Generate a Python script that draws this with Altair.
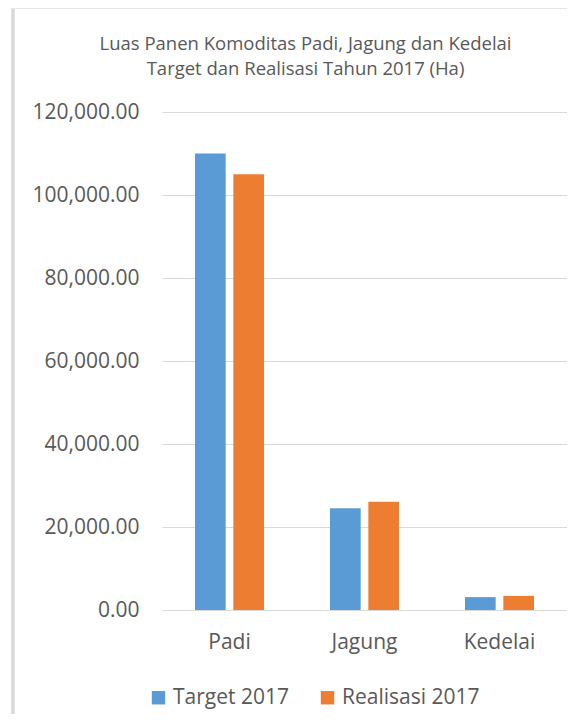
import altair as alt
import pandas as pd

categories = ["Padi", "Jagung", "Kedelai"]
series_names = ["Target 2017", "Realisasi 2017"]
target_2017 = [110000, 24500, 3100]
realisasi_2017 = [105000, 26100, 3400]
colors = ["#5B9BD5", "#ED7D31"]
title_lines = ["Luas Panen Komoditas Padi, Jagung dan Kedelai",
               "Target dan Realisasi Tahun 2017 (Ha)"]

rows = []
for i, c in enumerate(categories):
    rows.append({"Komoditas": c, "Seri": series_names[0], "Nilai": target_2017[i]})
    rows.append({"Komoditas": c, "Seri": series_names[1], "Nilai": realisasi_2017[i]})
df = pd.DataFrame(rows)

FONT = "Open Sans"
TXT = "#595959"

bars = alt.Chart(df).mark_bar().encode(
    x=alt.X("Komoditas:N", sort=categories,
            scale=alt.Scale(paddingInner=0.489, paddingOuter=0.2445),
            axis=alt.Axis(title=None, labelAngle=0, domain=False, ticks=False, grid=False,
                          labelFontSize=21, labelColor=TXT, labelFont=FONT,
                          labelPadding=21)),
    xOffset=alt.XOffset("Seri:N", sort=series_names,
                        scale=alt.Scale(paddingInner=0.2, paddingOuter=0)),
    y=alt.Y("Nilai:Q", scale=alt.Scale(domain=[0, 120000], nice=False),
            axis=alt.Axis(title=None, format=",.2f", values=[0, 20000, 40000, 60000, 80000, 100000, 120000],
                          domain=False, ticks=False, grid=True, gridColor="#d9d9d9",
                          labelFontSize=21, labelColor=TXT, labelFont=FONT,
                          labelPadding=23)),
    color=alt.Color("Seri:N", sort=series_names,
                    scale=alt.Scale(domain=series_names, range=colors),
                    legend=alt.Legend(title=None, orient="none", direction="horizontal",
                                      legendX=-14, legendY=575,
                                      symbolType="square", symbolSize=180,
                                      symbolStrokeWidth=0,
                                      labelFontSize=21, labelColor=TXT, labelFont=FONT,
                                      labelOffset=4, columnPadding=28)),
)

frame_left = alt.Chart(df).mark_rule(color="#d9d9d9", strokeWidth=2.5).encode(
    x=alt.value(-149), y=alt.value(-104), y2=alt.value(630))
frame_top = alt.Chart(df).mark_rule(color="#e6e6e6", strokeWidth=1.5).encode(
    x=alt.value(-150), x2=alt.value(412), y=alt.value(-104))

chart = alt.layer(frame_left, frame_top, bars).properties(
    width=405, height=498,
    background="white",
    title=alt.TitleParams(title_lines, anchor="middle", frame="group", dx=-59, dy=104,
                          fontSize=18.5, fontWeight="normal", font=FONT, color=TXT,
                          offset=32, lineHeight=25),
    autosize=alt.AutoSizeParams(type="none"),
    padding={"left": 154, "top": 104, "right": 0, "bottom": 104},
).configure_view(strokeWidth=0)

chart.save("out.html", embed_options={"renderer": "svg", "actions": False})
